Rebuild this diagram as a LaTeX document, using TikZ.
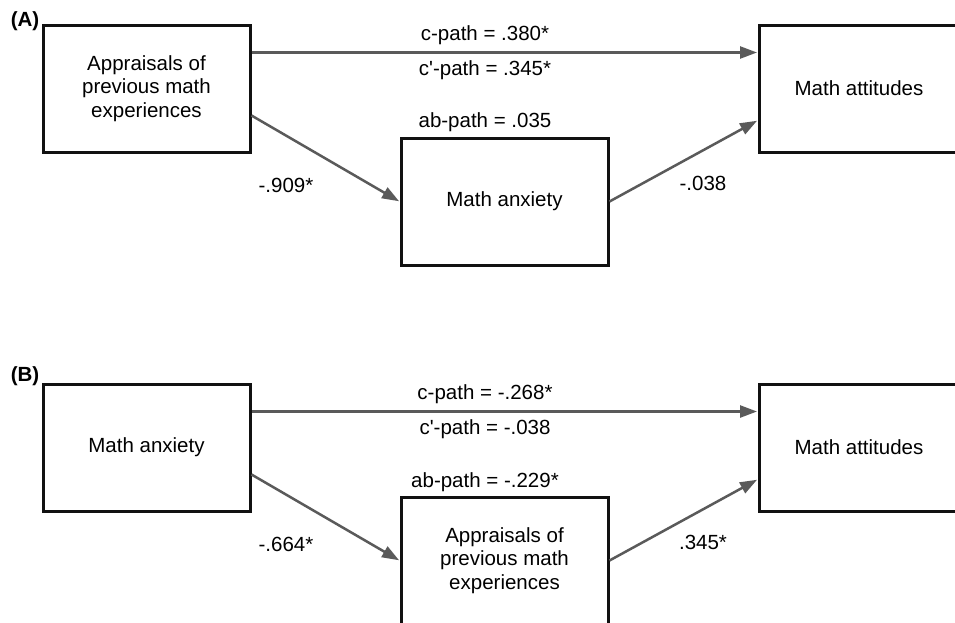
\documentclass[tikz,border=0pt]{standalone}
\usepackage{fontspec}
\setmainfont{Liberation Sans}[Ligatures=TeXOff]
\usetikzlibrary{arrows.meta}
\definecolor{arrowgray}{HTML}{5A5A5A}
\definecolor{boxblack}{HTML}{111111}
\tikzset{
  vbox/.style={draw=boxblack, line width=3pt, minimum width=207pt, minimum height=127pt,
    inner sep=0pt, align=center, font=\fontsize{20.5}{23.5}\selectfont},
  conn/.style={draw=arrowgray, line width=2.5pt, -{Triangle[length=17pt,width=12pt]}, shorten >=0.5pt},
  lbl/.style={font=\fontsize{20.5}{23.5}\selectfont, inner sep=0pt},
  panel/.style={font=\bfseries\fontsize{20.5}{23.5}\selectfont, inner sep=0pt}
}
\begin{document}
\begin{tikzpicture}[x=1pt,y=-1pt]
\useasboundingbox (0,0) rectangle (955,622);
\clip (0,0) rectangle (955,622);
\fill[white] (0,0) rectangle (955,622);
% ---------- Panel A ----------
\node[panel] (pA) at (25,21) {(A)};
\node[vbox] (a1) at (146.5,88.5) {Appraisals of\\previous math\\experiences};
\node[vbox, minimum width=200pt] (a3) at (859,88.5) {Math attitudes};
\node[vbox] (a2) at (504.5,201.5) {Math anxiety};
\coordinate (a1h) at ([yshift=36pt]a1.east);
\coordinate (a1d) at ([yshift=-27pt]a1.east);
\coordinate (a3u) at ([yshift=-32pt]a3.west);
\draw[conn] (a1h) -- (a1h -| a3.west);
\draw[conn] (a1d) -- (a2.west);
\draw[conn] (a2.east) -- (a3u);
\node[lbl] (ac) at (485,35) {c-path = .380*};
\node[lbl] (acp) at (485,70) {c'-path = .345*};
\node[lbl] (aab) at (485,122) {ab-path = .035};
\node[lbl] (aa) at (286,185) {-.909*};
\node[lbl] (ab) at (703,183) {-.038};
% ---------- Panel B ----------
\node[panel] (pB) at (25,376) {(B)};
\node[vbox] (b1) at (146.5,447.5) {Math anxiety};
\node[vbox, minimum width=200pt] (b3) at (859,447.5) {Math attitudes};
\node[vbox] (b2) at (504.5,560.5) {Appraisals of\\previous math\\experiences};
\coordinate (b1h) at ([yshift=36pt]b1.east);
\coordinate (b1d) at ([yshift=-27pt]b1.east);
\coordinate (b3u) at ([yshift=-32pt]b3.west);
\draw[conn] (b1h) -- (b1h -| b3.west);
\draw[conn] (b1d) -- (b2.west);
\draw[conn] (b2.east) -- (b3u);
\node[lbl] (bc) at (485,394) {c-path = -.268*};
\node[lbl] (bcp) at (485,429) {c'-path = -.038};
\node[lbl] (bab) at (485,482) {ab-path = -.229*};
\node[lbl] (ba) at (286,544) {-.664*};
\node[lbl] (bb) at (703,542) {.345*};
\end{tikzpicture}
\end{document}
